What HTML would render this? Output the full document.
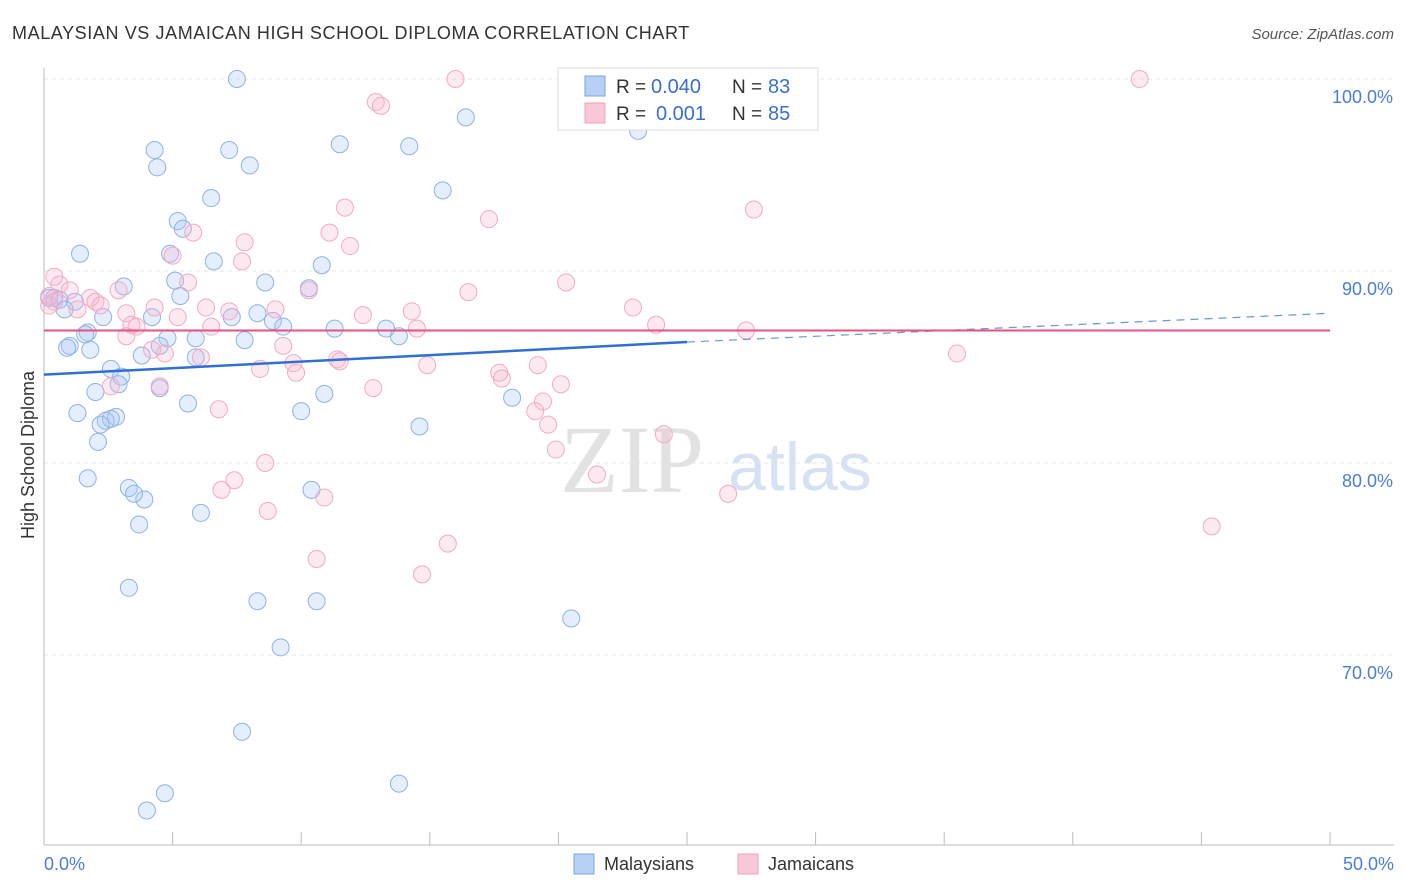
<!DOCTYPE html>
<html><head><meta charset="utf-8"><style>
body{margin:0;background:#fff;font-family:"Liberation Sans",sans-serif;}
svg{display:block}
</style></head><body>
<svg id="chart" width="1406" height="892">
<text x="12" y="39" font-size="18" fill="#333" letter-spacing="0.6">MALAYSIAN VS JAMAICAN HIGH SCHOOL DIPLOMA CORRELATION CHART</text>
<text x="1394" y="39" font-size="15" fill="#555" font-style="italic" text-anchor="end">Source: ZipAtlas.com</text>
<text x="632" y="492" font-size="96" fill="#e2e2e2" font-family="Liberation Serif" text-anchor="middle">ZIP</text>
<text x="800" y="490" font-size="68" fill="#d6e2f3" text-anchor="middle">atlas</text>
<g id="grid"></g>
<g id="axes"></g>
<g id="pts"></g>
<g id="trend"></g>
<text transform="translate(34,455) rotate(-90)" font-size="18" fill="#333" text-anchor="middle">High School Diploma</text>
<text x="44" y="870" font-size="18" fill="#4a7fd6">0.0%</text>
<text x="1394" y="870" font-size="18" fill="#4a7fd6" text-anchor="end">50.0%</text>
<g>
<rect x="558" y="68" width="260" height="62" fill="#fff" stroke="#ddd"/>
<rect x="585" y="76" width="20" height="20" fill="#b8d0f4" stroke="#7aa3e0"/>
<rect x="585" y="103" width="20" height="20" fill="#f9c8d8" stroke="#f0a0bc"/>
<text x="616" y="93" font-size="19" fill="#333">R =</text>
<text x="651" y="93" font-size="20" fill="#3a6fd0">0.040</text>
<text x="732" y="93" font-size="19" fill="#333">N =</text>
<text x="768" y="93" font-size="20" fill="#3a6fd0">83</text>
<text x="616" y="120" font-size="19" fill="#333">R =</text>
<text x="656" y="120" font-size="20" fill="#3a6fd0">0.001</text>
<text x="732" y="120" font-size="19" fill="#333">N =</text>
<text x="768" y="120" font-size="20" fill="#3a6fd0">85</text>
</g>
<g>
<rect x="574" y="854" width="20" height="20" fill="#b8d0f4" stroke="#7aa3e0"/>
<text x="604" y="870" font-size="18" fill="#333">Malaysians</text>
<rect x="738" y="854" width="20" height="20" fill="#f9c8d8" stroke="#f0a0bc"/>
<text x="768" y="870" font-size="18" fill="#333">Jamaicans</text>
</g>
</svg>
<script>
const yTicks=[100,90,80,70];
const xTicks=[0,5,10,15,20,25,30,35,40,45,50];
const blueX=[7.5,16.4,23.1,4.3,7.2,11.5,14.2,4.4,8.0,15.5,6.5,5.2,5.4,1.4,4.9,6.6,10.8,5.1,8.6,3.1,10.3,5.3,0.4,0.2,0.6,1.2,0.8,8.3,2.3,4.2,7.3,8.9,9.3,11.3,13.3,13.8,1.7,1.6,5.9,7.8,4.8,4.5,1.0,0.9,1.8,3.8,5.9,2.6,3.0,2.9,2.0,4.5,10.9,18.2,5.6,10.0,1.3,2.8,2.4,2.6,2.2,14.6,2.1,1.7,3.3,3.9,3.5,10.4,6.1,3.7,3.3,8.3,10.6,20.5,9.2,7.7,13.8,4.7,4.0];
const blueY=[100,98.0,97.3,96.3,96.3,96.6,96.5,95.4,95.5,94.2,93.8,92.6,92.2,90.9,90.9,90.5,90.3,89.5,89.4,89.2,89.1,88.7,88.6,88.6,88.5,88.4,88.0,87.8,87.6,87.6,87.6,87.4,87.1,87.0,87.0,86.6,86.8,86.7,86.5,86.4,86.5,86.1,86.1,86.0,85.9,85.6,85.5,84.9,84.5,84.1,83.7,83.9,83.6,83.4,83.1,82.7,82.6,82.4,82.2,82.3,82.0,81.9,81.1,79.2,78.7,78.1,78.4,78.6,77.4,76.8,73.5,72.8,72.8,71.9,70.4,66.0,63.3,62.8,61.9];
const pinkX=[16.0,42.6,26.5,12.9,13.1,11.7,27.6,17.3,5.8,11.1,7.8,11.9,7.7,5.0,0.4,0.6,20.3,5.6,10.3,2.9,16.5,1.0,0.2,1.8,0.4,2.0,2.2,4.3,6.3,9.0,22.9,7.2,3.2,12.4,14.3,1.3,5.2,6.5,23.8,3.4,3.6,14.5,27.3,3.2,9.3,4.2,4.7,6.1,35.5,11.4,11.5,9.7,9.8,14.9,19.2,8.4,17.7,17.8,20.1,12.8,4.5,2.6,19.4,19.1,6.8,19.6,24.1,19.9,8.6,21.5,7.4,6.9,26.6,10.9,8.7,45.4,15.7,10.6,14.7,0.2];
const pinkY=[100,100,100,98.8,98.6,93.3,93.2,92.7,92.0,92.0,91.5,91.3,90.5,90.8,89.7,89.3,89.4,89.4,89.0,89.0,88.9,89.0,88.7,88.6,88.4,88.4,88.2,88.1,88.1,88.0,88.1,87.9,87.8,87.7,87.9,88.0,87.6,87.1,87.2,87.2,87.1,87.0,86.9,86.6,86.1,85.9,85.7,85.5,85.7,85.4,85.3,85.2,84.7,85.1,85.1,84.9,84.7,84.4,84.1,83.9,84.0,84.0,83.2,82.7,82.8,82.0,81.5,80.7,80.0,79.4,79.1,78.6,78.4,78.2,77.5,76.7,75.8,75.0,74.2,88.2];
const blueTrend=[84.6,86.3,87.8];
const pinkTrend=[86.9,86.9];
const NS="http://www.w3.org/2000/svg";
const X=v=>44+v/50*1286;
const Y=v=>79+(100-v)*19.2;
function mk(tag,attrs,parent){const e=document.createElementNS(NS,tag);for(const k in attrs)e.setAttribute(k,attrs[k]);parent.appendChild(e);return e;}
const grid=document.getElementById('grid'),axes=document.getElementById('axes'),pts=document.getElementById('pts'),tr=document.getElementById('trend');
yTicks.forEach(t=>{
 const l=mk('line',{x1:44,x2:1394,y1:Y(t),y2:Y(t),stroke:'#e4e4e4','stroke-dasharray':'4,4'},grid);
 
 
 const tx=mk('text',{x:1393,y:Y(t)+24,'font-size':18,fill:'#4a7fd6','text-anchor':'end'},grid);
 tx.textContent=t.toFixed(1)+'%';
 
 
});
const ax=mk('line',{x1:44,x2:1394,y1:845,y2:845,stroke:'#bbb'},axes);


const ay=mk('line',{x1:44,x2:44,y1:68,y2:845,stroke:'#bbb'},axes);


xTicks.forEach(t=>{
 const l=mk('line',{x1:X(t),x2:X(t),y1:832,y2:845,stroke:'#bbb'},axes);
 
 
});
function dots(xs,ys,fill,stroke,name){
 xs.forEach((v,i)=>{
  const c=mk('circle',{cx:X(v),cy:Y(ys[i]),r:8.5,fill:fill,stroke:stroke,'stroke-width':1},pts);
  
  
 });
}
dots(blueX,blueY,'rgba(170,200,245,0.3)','#8fb2e6','malaysian-point');
dots(pinkX,pinkY,'rgba(248,180,205,0.28)','#f2aac4','jamaican-point');
const b1=mk('line',{x1:X(0),y1:Y(blueTrend[0]),x2:X(25),y2:Y(blueTrend[1]),stroke:'#2f6fd6','stroke-width':2.5},tr);


const b2=mk('line',{x1:X(25),y1:Y(blueTrend[1]),x2:X(50),y2:Y(blueTrend[2]),stroke:'#6a97dd','stroke-width':1.2,'stroke-dasharray':'8,6'},tr);


const p1=mk('line',{x1:X(0),y1:Y(pinkTrend[0]),x2:X(50),y2:Y(pinkTrend[1]),stroke:'#e6537f','stroke-width':2},tr);


</script>
</body></html>
